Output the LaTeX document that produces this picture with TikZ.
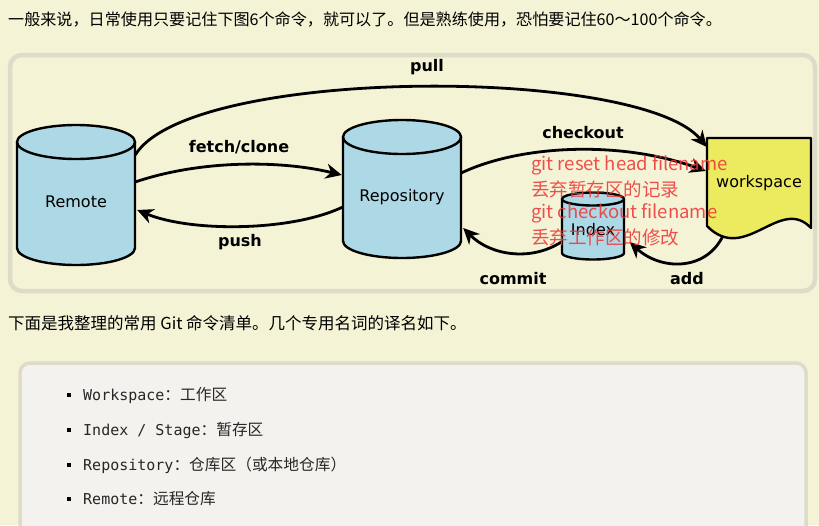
\documentclass[tikz,border=0pt]{standalone}
\usepackage{fontspec}
\setmainfont{DejaVu Sans}
\newfontfamily\cjk{Noto Sans CJK SC}
\newfontfamily\mymono{DejaVu Sans Mono}
\usetikzlibrary{arrows.meta,calc}
\definecolor{pagebg}{HTML}{F4F3D6}
\definecolor{framegray}{HTML}{DEDCC8}
\definecolor{codebg}{HTML}{F4F2EE}
\definecolor{cylblue}{HTML}{ADD8E6}
\definecolor{wsyellow}{HTML}{ECEA5E}
\definecolor{notered}{HTML}{EE3838}
\definecolor{listink}{HTML}{262626}
\tikzset{
  shapeline/.style={draw=black, line width=2.4pt, line join=round},
  conn/.style={draw=black, line width=2.8pt, -{Stealth[length=16pt,width=15pt,inset=5pt]}},
  cmdlabel/.style={font=\fontsize{16}{18}\selectfont\bfseries, inner sep=0pt},
  areatext/.style={font=\fontsize{16}{18}\selectfont, inner sep=0pt, minimum height=20pt},
  notetext/.style={font=\cjk\fontsize{18.5}{22}\selectfont, text=notered, text opacity=0.88, inner sep=0pt, anchor=west},
  prose/.style={font=\cjk\fontsize{16.1}{18}\selectfont, inner sep=0pt, anchor=west},
  listtext/.style={font=\fontsize{15}{18}\selectfont, text=listink, inner sep=0pt, anchor=west},
}
\newcommand{\cylshape}[5]{%
  \path[shapeline, fill=cylblue] ({#1-#4},#2) -- ({#1-#4},#3)
    arc[start angle=180, end angle=0, x radius=#4, y radius=#5] -- ({#1+#4},#2) -- cycle;
  \path[shapeline, fill=cylblue] (#1,#2) ellipse [x radius=#4, y radius=#5];
}
\newcommand{\listcjk}[1]{{\cjk\fontsize{15.7}{18}\selectfont #1}}
\begin{document}
\begin{tikzpicture}[x=1pt,y=-1pt]
\useasboundingbox (0,0) rectangle (819,525);
\clip (0,0) rectangle (819,525);
\fill[pagebg] (0,0) rectangle (819,525);

% intro text
\node[prose] (intro) at (8,20) {一般来说，日常使用只要记住下图6个命令，就可以了。但是熟练使用，恐怕要记住60～100个命令。};

% diagram frame
\draw[framegray, line width=4.5pt, rounded corners=12pt, fill=pagebg] (10,55) rectangle (815,291);

% shapes
\cylshape{76}{142}{248}{59}{17}
\cylshape{402}{137}{241}{59}{17}
\cylshape{593}{199}{253}{31}{6.5}
\path[shapeline, fill=wsyellow] (707,138) -- (811,138) -- (811,228)
  .. controls (780,195) and (745,265) .. (707,226) -- cycle;

% nodes
\node[areatext, minimum width=118pt] (remote) at (76,202) {Remote};
\node[areatext, minimum width=118pt] (repo) at (402,197) {Repository};
\node[areatext, minimum width=63pt] (index) at (593,230) {Index};
\node[areatext, minimum width=104pt, minimum height=90pt] (ws) at (759,183) {workspace};

% connectors
\draw[conn] ([yshift=47pt]remote.east) .. controls (190,66) and (640,66) .. ([yshift=36pt]ws.west);
\draw[conn] ([yshift=20pt]remote.east) .. controls (200,160) and (280,160) .. ([yshift=22pt,xshift=-1pt]repo.west);
\draw[conn] ([yshift=-10pt]repo.west) .. controls (290,232) and (190,232) .. ([yshift=-8pt,xshift=2pt]remote.east);
\draw[conn] ([yshift=24pt]repo.east) .. controls (520,145) and (620,140) .. ([yshift=12pt,xshift=-1pt]ws.west);
\draw[conn] ([yshift=-12pt]index.west) .. controls (530,262) and (490,255) .. ([yshift=-31pt,xshift=2pt]repo.east);
\draw[conn] ([xshift=16pt,yshift=-8pt]ws.south west) .. controls (705,272) and (660,270) .. ([yshift=-12pt,xshift=5pt]index.east);

% command labels
\node[cmdlabel] (lpull) at (427,67) {pull};
\node[cmdlabel] (lfetch) at (239,147) {fetch/clone};
\node[cmdlabel] (lpush) at (240,242) {push};
\node[cmdlabel] (lcheckout) at (583,133) {checkout};
\node[cmdlabel] (lcommit) at (513,279) {commit};
\node[cmdlabel] (ladd) at (687,279) {add};

% red notes
\node[notetext] (note1) at (531,165) {git reset head filename};
\node[notetext] (note2) at (531,189) {丢弃暂存区的记录};
\node[notetext] (note3) at (531,213) {git checkout filename};
\node[notetext] (note4) at (531,237) {丢弃工作区的修改};

% second paragraph
\node[prose, font=\cjk\fontsize{16.5}{18}\selectfont] (para) at (8,323) {下面是我整理的常用 Git 命令清单。几个专用名词的译名如下。};

% code box
\draw[framegray, line width=3.5pt, rounded corners=10pt, fill=codebg] (20,363) rectangle (806,560);

\foreach \yy in {395,430,465,499} {\fill[black] (67,{\yy-2}) rectangle (71,{\yy+2});}
\node[listtext] (item1) at (83,395) {{\mymono Workspace}\listcjk{：工作区}};
\node[listtext] (item2) at (83,430) {{\mymono Index / Stage}\listcjk{：暂存区}};
\node[listtext] (item3) at (83,465) {{\mymono Repository}\listcjk{：仓库区（或本地仓库）}};
\node[listtext] (item4) at (83,499) {{\mymono Remote}\listcjk{：远程仓库}};
\end{tikzpicture}
\end{document}
